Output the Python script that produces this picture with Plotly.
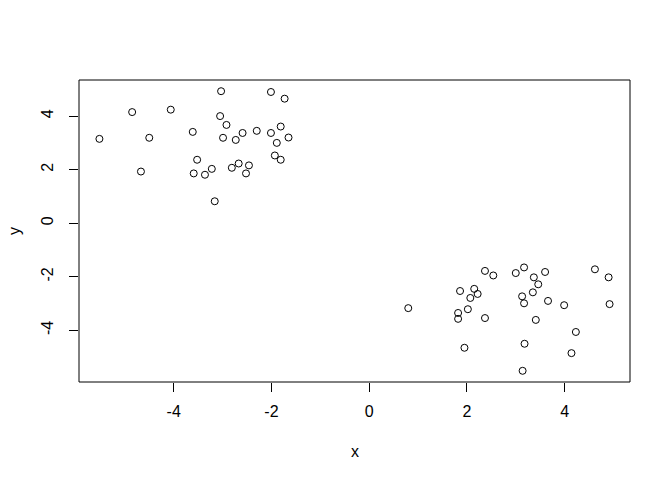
import plotly.graph_objects as go

# Cluster 1 (upper left)
x1 = [-3.03, -2.01, -1.73, -4.85, -4.06, -3.05, -2.92, -5.52, -4.50, -3.61,
      -2.99, -2.73, -2.59, -2.30, -2.01, -1.81, -1.89, -1.65, -1.93, -1.81,
      -3.52, -4.67, -3.59, -3.36, -3.22, -2.81, -2.67, -2.46, -2.52, -3.16]
y1 = [4.93, 4.90, 4.65, 4.15, 4.24, 4.00, 3.67, 3.15, 3.19, 3.41,
      3.19, 3.11, 3.37, 3.45, 3.37, 3.61, 3.00, 3.20, 2.53, 2.37,
      2.37, 1.93, 1.86, 1.81, 2.03, 2.07, 2.23, 2.16, 1.86, 0.82]
# Cluster 2 (lower right)
x2 = [0.80, 2.37, 2.54, 3.00, 3.17, 3.37, 3.60, 4.62, 4.90, 3.46,
      3.35, 3.13, 3.17, 3.66, 3.99, 4.92, 1.86, 2.15, 2.22, 2.07,
      2.02, 1.82, 1.82, 2.37, 3.41, 4.23, 1.95, 3.18, 4.14, 3.14]
y2 = [-3.17, -1.78, -1.95, -1.86, -1.65, -2.02, -1.82, -1.72, -2.02, -2.28,
      -2.58, -2.73, -2.99, -2.90, -3.06, -3.02, -2.53, -2.45, -2.64, -2.79,
      -3.21, -3.35, -3.57, -3.54, -3.61, -4.06, -4.65, -4.50, -4.85, -5.51]

xs = x1 + x2
ys = y1 + y2
tick_vals = [-4, -2, 0, 2, 4]
tick_text = ["-4", "-2", "0", "2", "4"]


def rrange(v):
    lo, hi = min(v), max(v)
    pad = 0.04 * (hi - lo)
    return [lo - pad, hi + pad]


FONT = "Liberation Sans, Arial, sans-serif"

fig = go.Figure()
fig.add_trace(go.Scatter(
    x=xs, y=ys, mode="markers",
    marker=dict(symbol="circle-open", size=7, color="black", line=dict(width=1, color="black")),
    showlegend=False, hoverinfo="skip",
))

axis_common = dict(
    tickvals=tick_vals, ticktext=tick_text,
    ticks="outside", ticklen=9, tickwidth=1, tickcolor="black",
    showgrid=False, zeroline=False, showline=False,
    tickfont=dict(family=FONT, size=16, color="black"),
)

fig.update_layout(
    width=672, height=480,
    margin=dict(l=79, r=42, t=80, b=98),
    paper_bgcolor="white", plot_bgcolor="white",
    xaxis=dict(range=rrange(xs), ticklabelstandoff=6, **axis_common),
    yaxis=dict(range=rrange(ys), tickangle=-90, ticklabelstandoff=10, **axis_common),
    shapes=[dict(type="rect", xref="paper", yref="paper", x0=0, x1=1, y0=0, y1=1,
                 line=dict(color="black", width=1), fillcolor="rgba(0,0,0,0)")],
    annotations=[
        dict(text="x", xref="paper", yref="paper", x=0.5, y=0, yshift=-69,
             showarrow=False, font=dict(family=FONT, size=16, color="black"),
             xanchor="center", yanchor="middle"),
        dict(text="y", xref="paper", yref="paper", x=0, y=0.5, xshift=-65,
             showarrow=False, textangle=-90, font=dict(family=FONT, size=16, color="black"),
             xanchor="center", yanchor="middle"),
    ],
)

fig.write_html("out.html", config={"displayModeBar": False},
               post_script="document.body.style.margin='0';")
